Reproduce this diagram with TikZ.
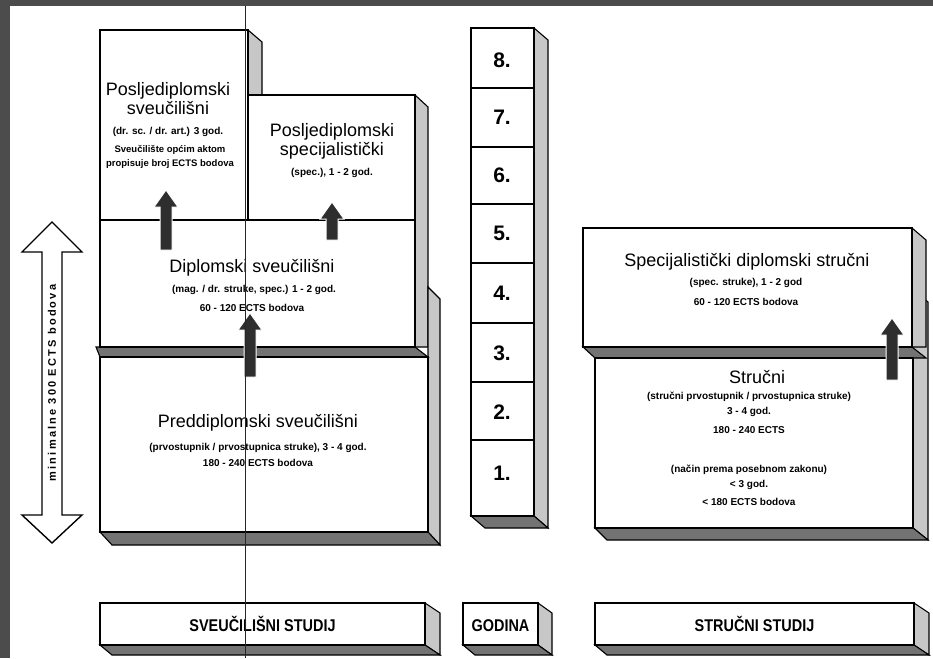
\documentclass[tikz,border=0pt]{standalone}
\usepackage{fontspec}
\setmainfont{Liberation Sans}
\newfontfamily\spacedfont[LetterSpace=20]{Liberation Sans}
\tikzset{
  face/.style={draw=black, line width=1.4pt, fill=white, inner sep=0pt, outer sep=0pt, anchor=north west},
  slabv/.style={draw=black, line width=1.1pt, fill=black!22},
  slabh/.style={draw=black, line width=1.1pt, fill=black!55},
  blk/.style={fill=black!82, draw=white, line width=1pt},
  headtxt/.style={font=\fontsize{18}{19}\selectfont, align=center, inner sep=0pt},
  smalltxt/.style={font=\bfseries\fontsize{10}{13.5}\selectfont, align=center, inner sep=0pt},
  yeartxt/.style={font=\bfseries\fontsize{21}{21}\selectfont, inner sep=0pt},
  labtxt/.style={font=\bfseries\fontsize{17}{17}\selectfont, inner sep=0pt, anchor=base},
  yearbox/.style={draw=black, line width=1.2pt, fill=white, minimum width=63pt, inner sep=0pt, outer sep=0pt, anchor=north west},
  bigarrow/.style={draw=black, fill=white, line width=1.4pt},
}
\newcommand\blockup[3]{\filldraw[blk] (#1-6,#2) -- (#1-6,#3+17) -- (#1-12,#3+17) -- (#1,#3) -- (#1+12,#3+17) -- (#1+6,#3+17) -- (#1+6,#2) -- cycle;}
\begin{document}
\begin{tikzpicture}[x=1pt,y=-1pt]
\useasboundingbox (0,0) rectangle (933,658);
\fill[white] (0,0) rectangle (933,658);

% ---------- left group (university study) ----------
\filldraw[slabv] (248,30) -- (262,42) -- (262,95) -- (248,95) -- cycle;
\filldraw[slabv] (415,95) -- (428,107) -- (428,347) -- (415,347) -- cycle;
\filldraw[slabv] (428,287) -- (440,299) -- (440,545) -- (428,532) -- cycle;
\filldraw[slabh] (96,347) -- (415,347) -- (428,357) -- (100,357) -- cycle;
\filldraw[slabh] (100,532) -- (428,532) -- (440,545) -- (112,545) -- cycle;
\node[face, minimum width=148pt, minimum height=190pt] (psv) at (100,30) {};
\node[face, minimum width=167pt, minimum height=125pt] (psp) at (248,95) {};
\node[face, minimum width=315pt, minimum height=127pt] (dip) at (100,220) {};
\node[face, minimum width=328pt, minimum height=175pt] (pred) at (100,357) {};

% ---------- year column ----------
\filldraw[slabv] (534,28) -- (548,40) -- (548,528) -- (534,516) -- cycle;
\filldraw[slabh] (471,516) -- (534,516) -- (548,528) -- (485,528) -- cycle;
\node[yearbox, minimum height=60pt] (yb8) at (471,28) {};
\node[yearbox, minimum height=59pt] (yb7) at (471,88) {};
\node[yearbox, minimum height=57pt] (yb6) at (471,147) {};
\node[yearbox, minimum height=59pt] (yb5) at (471,204) {};
\node[yearbox, minimum height=60pt] (yb4) at (471,263) {};
\node[yearbox, minimum height=59pt] (yb3) at (471,323) {};
\node[yearbox, minimum height=58pt] (yb2) at (471,382) {};
\node[yearbox, minimum height=76pt] (yb1) at (471,440) {};
\node[yeartxt] (n8) at (502,60) {8.};
\node[yeartxt] (n7) at (502,117) {7.};
\node[yeartxt] (n6) at (502,175) {6.};
\node[yeartxt] (n5) at (502,233) {5.};
\node[yeartxt] (n4) at (502,293) {4.};
\node[yeartxt] (n3) at (502,353) {3.};
\node[yeartxt] (n2) at (502,412) {2.};
\node[yeartxt] (n1) at (502,473) {1.};

% ---------- right group (professional study) ----------
\filldraw[slabv] (913,290) -- (928,302) -- (928,540) -- (913,528) -- cycle;
\filldraw[slabv] (912,228) -- (926,240) -- (926,347) -- (912,347) -- cycle;
\filldraw[slabh] (583,347) -- (912,347) -- (926,358) -- (595,358) -- cycle;
\filldraw[slabh] (595,528) -- (913,528) -- (928,540) -- (607,540) -- cycle;
\node[face, minimum width=329pt, minimum height=119pt] (sds) at (583,228) {};
\node[face, minimum width=318pt, minimum height=170pt] (str) at (595,358) {};

% ---------- bottom labels ----------
\filldraw[slabv] (425,603) -- (440,613) -- (440,655) -- (425,645) -- cycle;
\filldraw[slabh] (100,645) -- (425,645) -- (440,655) -- (112,655) -- cycle;
\node[face, minimum width=325pt, minimum height=42pt] (lsv) at (100,603) {};
\filldraw[slabv] (538,603) -- (552,613) -- (552,655) -- (538,645) -- cycle;
\filldraw[slabh] (463,645) -- (538,645) -- (552,655) -- (475,655) -- cycle;
\node[face, minimum width=75pt, minimum height=42pt] (lgo) at (463,603) {};
\filldraw[slabv] (914,603) -- (929,613) -- (929,655) -- (914,645) -- cycle;
\filldraw[slabh] (595,645) -- (914,645) -- (929,655) -- (607,655) -- cycle;
\node[face, minimum width=319pt, minimum height=42pt] (lst) at (595,603) {};
\node[labtxt] (lsvt) at ([yshift=-7pt]lsv.center) {\scalebox{0.85}[1]{SVEUČILIŠNI STUDIJ}};
\node[labtxt] (lgot) at ([yshift=-7pt]lgo.center) {\scalebox{0.85}[1]{GODINA}};
\node[labtxt] (lstt) at ([yshift=-7pt]lst.center) {\scalebox{0.85}[1]{STRUČNI STUDIJ}};

% ---------- block arrows ----------
\blockup{166}{250}{190}
\blockup{332}{240}{202}
\blockup{250}{377}{313}
\blockup{892}{380}{318}

% ---------- texts ----------
\node[headtxt] (tpsv) at (168,99) {Posljediplomski\\sveučilišni};
\node[smalltxt] (tpsv2) at (168,132) {(dr. sc. / dr. art.) 3 god.};
\node[smalltxt, font=\bfseries\fontsize{9.5}{13.5}\selectfont] (tpsv3) at (170,157) {Sveučilište općim aktom\\propisuje broj ECTS bodova};
\node[headtxt] (tpsp) at (332,141) {Posljediplomski\\specijalistički};
\node[smalltxt] (tpsp2) at (332,173) {(spec.), 1 - 2 god.};
\node[headtxt] (tdip) at (252,268) {Diplomski sveučilišni};
\node[smalltxt] (tdip2) at (254,290) {(mag. / dr. struke, spec.) 1 - 2 god.};
\node[smalltxt] (tdip3) at (252,308) {60 - 120 ECTS bodova};
\node[headtxt] (tpred) at (258,423) {Preddiplomski sveučilišni};
\node[smalltxt] (tpred2) at (258,448) {(prvostupnik / prvostupnica struke), 3 - 4 god.};
\node[smalltxt] (tpred3) at (258,463) {180 - 240 ECTS bodova};
\node[headtxt] (tsds) at (747,262) {Specijalistički diplomski stručni};
\node[smalltxt] (tsds2) at (746,283) {(spec. struke), 1 - 2 god};
\node[smalltxt] (tsds3) at (746,302) {60 - 120 ECTS bodova};
\node[headtxt] (tstr) at (757,377) {Stručni};
\node[smalltxt] (tstr2) at (749,397) {(stručni prvostupnik / prvostupnica struke)};
\node[smalltxt] (tstr3) at (749,412) {3 - 4 god.};
\node[smalltxt] (tstr4) at (749,430) {180 - 240 ECTS};
\node[smalltxt] (tstr5) at (749,470) {(način prema posebnom zakonu)};
\node[smalltxt] (tstr6) at (749,485) {< 3 god.};
\node[smalltxt] (tstr7) at (749,502) {< 180 ECTS bodova};

% ---------- left double arrow ----------
\filldraw[bigarrow] (52,222) -- (82,252) -- (62,252) -- (62,515) -- (82,515) -- (52,543) -- (22,515) -- (42,515) -- (42,252) -- (22,252) -- cycle;
\node[rotate=90, font=\spacedfont\bfseries\fontsize{11}{12}\selectfont, inner sep=0pt] (ects) at (52,383) {minimalne 300 ECTS bodova};

% ---------- scan artefacts ----------
\draw[black!85, line width=0.8pt] (245,5) -- (245,658);
\fill[black!70] (0,0) rectangle (933,6);
\fill[black!70] (0,0) rectangle (10,658);
\end{tikzpicture}
\end{document}
